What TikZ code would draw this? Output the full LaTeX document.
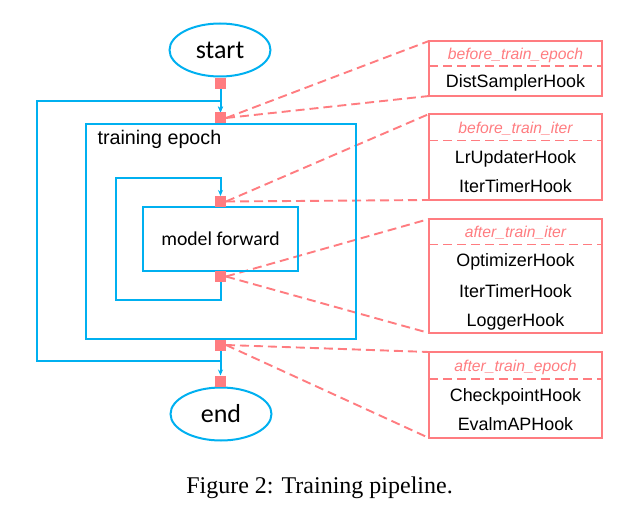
\documentclass[tikz,border=0pt]{standalone}
\usepackage{fontspec}
\setmainfont{Liberation Serif}
\newfontfamily\arialf{Liberation Sans}
\newfontfamily\calibrif{Carlito}
\usetikzlibrary{shapes.geometric,arrows.meta,backgrounds}
\definecolor{flowblue}{HTML}{00B0F0}
\definecolor{hookred}{HTML}{FF7C80}

\begin{document}
\begin{tikzpicture}[x=1pt,y=-1pt,
  terminal/.style={ellipse, draw=flowblue, line width=2pt, minimum width=101pt,
    minimum height=53pt, inner sep=0pt, font=\calibrif\fontsize{26}{30}\selectfont},
  block/.style={rectangle, draw=flowblue, line width=2pt, inner sep=0pt, outer sep=0pt},
  hookpt/.style={rectangle, fill=hookred, minimum size=11pt, inner sep=0pt, outer sep=0pt},
  flow/.style={draw=flowblue, line width=2pt},
  tip/.style={-{Stealth[length=6pt,width=5pt]}},
  link/.style={draw=hookred, line width=1.9pt, dash pattern=on 9pt off 5pt},
  hookbox/.style={rectangle, draw=hookred, line width=2pt, minimum width=173pt,
    inner sep=0pt, outer sep=0pt, anchor=north west},
  stage/.style={anchor=base, text=hookred, font=\arialf\itshape\fontsize{15.7}{18}\selectfont},
  hook/.style={anchor=base, font=\arialf\fontsize{17.9}{21}\selectfont}
]
\useasboundingbox (0,0) rectangle (628,513);

% terminals
\node[terminal] (start) at (220,50) {start};
\node[terminal] (stop) at (221,414) {end};

% nested loop blocks
\node[block, minimum width=270pt, minimum height=215pt] (epoch) at (221,231.5) {};
\node[anchor=base west, font=\arialf\fontsize{19.7}{23}\selectfont] (epochlbl) at (94,145) {training epoch};
\node[block, minimum width=155pt, minimum height=64pt,
      font=\calibrif\fontsize{19.7}{23}\selectfont] (fwd) at (220.5,239) {model forward};

% hook points
\node[hookpt] (pStart) at (220.5,84) {};
\node[hookpt] (pEpochIn) at (220.5,118) {};
\node[hookpt] (pIterIn) at (220.5,201.5) {};
\node[hookpt] (pIterOut) at (220.5,276.5) {};
\node[hookpt] (pEpochOut) at (220.5,345) {};
\node[hookpt] (pEnd) at (220.5,381) {};

% loop corners
\coordinate (outerTL) at (37,101);
\coordinate (outerBL) at (37,361);
\coordinate (innerTL) at (116,178);
\coordinate (innerBL) at (116,300);

% hook boxes
\node[hookbox, minimum height=55pt] (hb1) at (429,41) {};
\node[hookbox, minimum height=86pt] (hb2) at (429,114) {};
\node[hookbox, minimum height=114pt] (hb3) at (429,219) {};
\node[hookbox, minimum height=86pt] (hb4) at (429,352) {};

\draw[link] ([yshift=-25pt]hb1.north west) -- ([yshift=-25pt]hb1.north east);
\draw[link] ([yshift=-26.5pt]hb2.north west) -- ([yshift=-26.5pt]hb2.north east);
\draw[link] ([yshift=-25.5pt]hb3.north west) -- ([yshift=-25.5pt]hb3.north east);
\draw[link] ([yshift=-27pt]hb4.north west) -- ([yshift=-27pt]hb4.north east);

\node[stage] (s1) at (515.5,60) {before\_train\_epoch};
\node[hook] (h11) at (515.5,88) {DistSamplerHook};

\node[stage] (s2) at (515.5,133.5) {before\_train\_iter};
\node[hook] (h21) at (515.5,163.3) {LrUpdaterHook};
\node[hook] (h22) at (515.5,192.7) {IterTimerHook};

\node[stage] (s3) at (515.5,237.7) {after\_train\_iter};
\node[hook] (h31) at (515.5,266.7) {OptimizerHook};
\node[hook] (h32) at (515.5,297.3) {IterTimerHook};
\node[hook] (h33) at (515.5,326.7) {LoggerHook};

\node[stage] (s4) at (515.5,371.7) {after\_train\_epoch};
\node[hook] (h41) at (515.5,401) {CheckpointHook};
\node[hook] (h42) at (515.5,430.7) {EvalmAPHook};

% caption
\node[anchor=base, font=\fontsize{24}{28}\selectfont] (caption) at (319.5,493) {Figure 2: Training pipeline.};

\begin{scope}[on background layer]
  % control flow
  \draw[flow, tip] (pStart.south) -- (pEpochIn.north);
  \draw[flow, tip] (pEpochOut.south) |- (outerBL) -- (outerTL) -| (pEpochIn.north);
  \draw[flow, tip] (pEpochOut.south) -- (pEnd.north);
  \draw[flow, tip] (pIterOut.south) |- (innerBL) -- (innerTL) -| (pIterIn.north);
  % hook points to their hook lists
  \draw[link] (pEpochIn.east) -- (hb1.north west);
  \draw[link] (pEpochIn.east) -- (hb1.south west);
  \draw[link] (pIterIn.east) -- (hb2.north west);
  \draw[link] (pIterIn.east) -- (hb2.south west);
  \draw[link] (pIterOut.east) -- (hb3.north west);
  \draw[link] (pIterOut.east) -- (hb3.south west);
  \draw[link] (pEpochOut.east) -- (hb4.north west);
  \draw[link] (pEpochOut.east) -- (hb4.south west);
\end{scope}
\end{tikzpicture}
\end{document}
